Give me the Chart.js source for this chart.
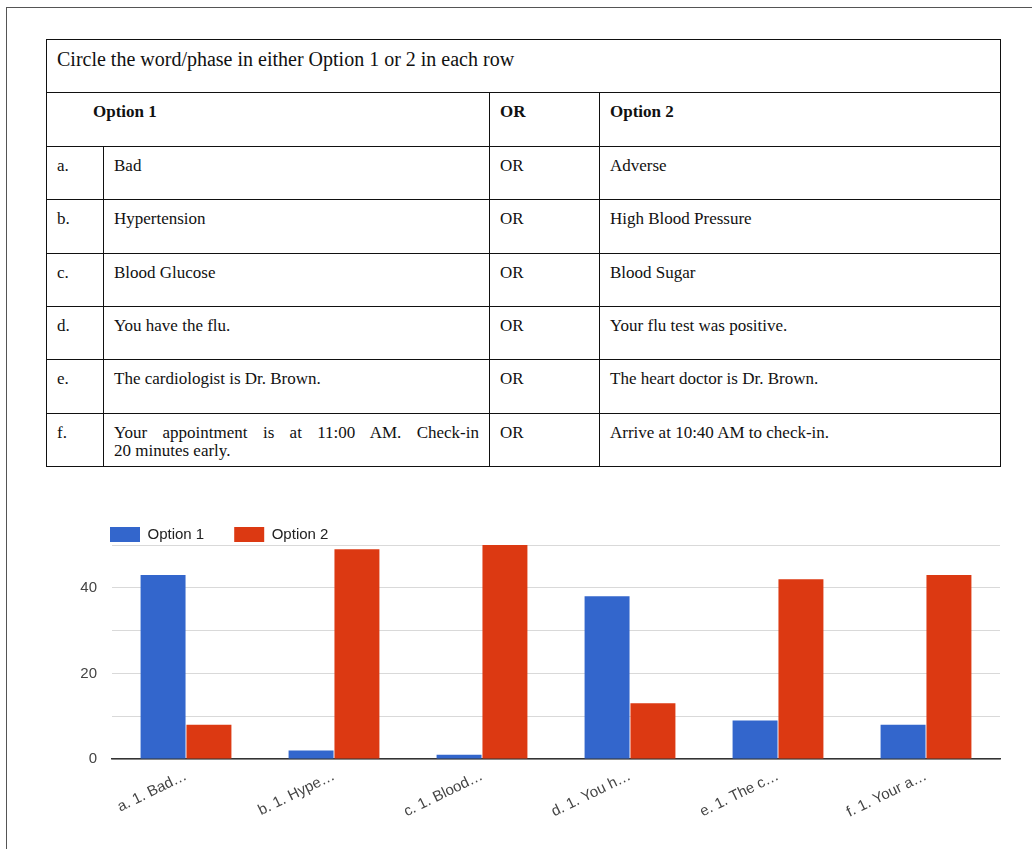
<!DOCTYPE html>
<html>
<head>
<meta charset="utf-8">
<script src="https://cdn.jsdelivr.net/npm/chart.js@4.4.0/dist/chart.umd.min.js"></script>
<style>
  body { margin: 0; background: #fff; overflow: hidden; width: 1032px; height: 849px; position: relative; }
  .frame { position: absolute; left: 6px; top: 7px; width: 1100px; height: 900px;
           border-left: 1.5px solid #555; border-top: 1.5px solid #555; }
  table { position: absolute; left: 46px; top: 39px; width: 954px; border-collapse: collapse;
          table-layout: fixed; font-family: "Liberation Serif", serif; font-size: 17px; color: #111; }
  tr { height: 53.4px; }
  td, th { border: 1.5px solid #111; vertical-align: top; padding: 10px 10px 0 10px; line-height: 18px; text-align: left; }
  .title { font-size: 20px; }
  .just { display: block; text-align: justify; text-align-last: justify; }
  #wrap { position: absolute; left: 40px; top: 497px; width: 970px; height: 352px; }
</style>
</head>
<body>
<div class="frame"></div>
<table>
  <colgroup><col style="width:57px"><col style="width:386px"><col style="width:110px"><col style="width:401px"></colgroup>
  <tr><td colspan="4" class="title">Circle the word/phase in either Option 1 or 2 in each row</td></tr>
  <tr><th colspan="2" style="padding-left:46px">Option 1</th><th>OR</th><th>Option 2</th></tr>
  <tr><td>a.</td><td>Bad</td><td>OR</td><td>Adverse</td></tr>
  <tr><td>b.</td><td>Hypertension</td><td>OR</td><td>High Blood Pressure</td></tr>
  <tr><td>c.</td><td>Blood Glucose</td><td>OR</td><td>Blood Sugar</td></tr>
  <tr><td>d.</td><td>You have the flu.</td><td>OR</td><td>Your flu test was positive.</td></tr>
  <tr><td>e.</td><td>The cardiologist is Dr. Brown.</td><td>OR</td><td>The heart doctor is Dr. Brown.</td></tr>
  <tr><td>f.</td><td><span class="just">Your appointment is at 11:00 AM. Check-in</span>20 minutes early.</td><td>OR</td><td>Arrive at 10:40 AM to check-in.</td></tr>
</table>
<div id="wrap"><canvas id="barChart" width="970" height="352"></canvas></div>
<script>
var categories = ['a. 1. Bad\u2026', 'b. 1. Hype\u2026', 'c. 1. Blood\u2026', 'd. 1. You h\u2026', 'e. 1. The c\u2026', 'f. 1. Your a\u2026'];
var option1 = [43, 2, 1, 38, 9, 8];
var option2 = [8, 49, 50, 13, 42, 43];
var yLabels = [0, 20, 40];

Chart.defaults.font.family = '"Liberation Sans", Arial, sans-serif';

var ctx = document.getElementById('barChart').getContext('2d');
var myChart = new Chart(ctx, {
    type: 'bar',
    data: {
        labels: categories,
        datasets: [{
            label: 'Option 1',
            data: option1,
            backgroundColor: '#3366cc',
            categoryPercentage: 0.62,
            barPercentage: 0.98
        }, {
            label: 'Option 2',
            data: option2,
            backgroundColor: '#dc3912',
            categoryPercentage: 0.62,
            barPercentage: 0.98
        }]
    },
    options: {
        responsive: false,
        animation: false,
        layout: { padding: { left: 40, right: 10, top: 0, bottom: 0 } },
        plugins: {
            legend: {
                position: 'top',
                align: 'start',
                maxHeight: 48,
                labels: {
                    boxWidth: 30,
                    boxHeight: 15,
                    padding: 30,
                    color: '#222',
                    font: { size: 15 }
                }
            },
            tooltip: { enabled: false }
        },
        scales: {
            x: {
                grid: { display: false, drawTicks: false },
                border: { color: '#333', width: 1.5 },
                ticks: { color: '#444', maxRotation: 26, minRotation: 26, padding: 8, font: { size: 15 } },
                afterFit: function (scale) { scale.height = 90; }
            },
            y: {
                min: 0,
                max: 50,
                border: { display: false },
                grid: { color: '#d9d9d9', drawTicks: false },
                ticks: {
                    stepSize: 10,
                    padding: 15,
                    color: '#444',
                    font: { size: 15 },
                    callback: function (v) { return yLabels.indexOf(v) >= 0 ? v : ''; }
                },
                afterFit: function (scale) { scale.width = 32; }
            }
        }
    }
});
</script>
</body>
</html>
